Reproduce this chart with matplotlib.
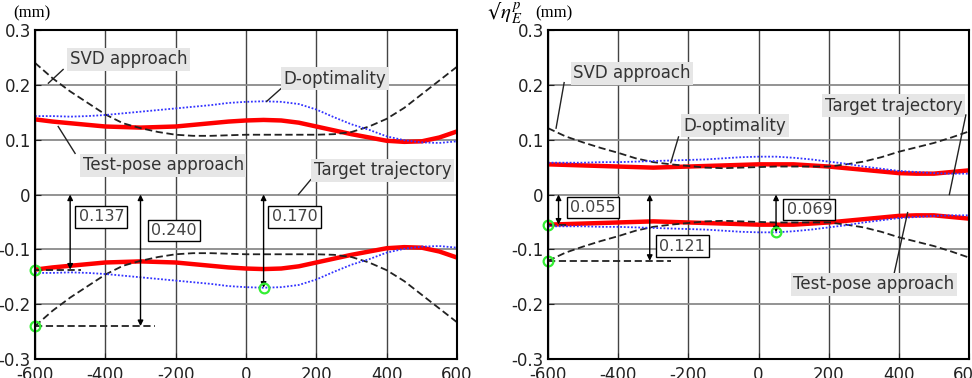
import numpy as np
import matplotlib
matplotlib.use("Agg")
import matplotlib.pyplot as plt

plt.rcParams['font.family'] = ['DejaVu Sans']
plt.rcParams['mathtext.fontset'] = 'stix'
plt.rcParams['axes.unicode_minus'] = False

# positions along the trajectory (mm)
pos = np.arange(-600, 601, 50)

# left panel: upper envelope values (the lower half is the mirror)
left_test = [0.137, 0.133, 0.130, 0.127, 0.124, 0.123, 0.122, 0.123, 0.124, 0.127,
             0.130, 0.133, 0.135, 0.136, 0.135, 0.131, 0.124, 0.117, 0.110, 0.104,
             0.098, 0.096, 0.097, 0.104, 0.115]
left_dopt = [0.143, 0.143, 0.142, 0.143, 0.145, 0.148, 0.151, 0.154, 0.157, 0.160,
             0.163, 0.167, 0.169, 0.170, 0.169, 0.165, 0.155, 0.141, 0.128, 0.118,
             0.106, 0.099, 0.095, 0.094, 0.097]
left_svd = [0.240, 0.212, 0.188, 0.167, 0.146, 0.130, 0.121, 0.114, 0.109, 0.107,
            0.107, 0.108, 0.109, 0.109, 0.109, 0.109, 0.109, 0.110, 0.114, 0.124,
            0.138, 0.158, 0.183, 0.208, 0.233]

# right panel
right_test = [0.055, 0.054, 0.053, 0.052, 0.051, 0.050, 0.049, 0.050, 0.051, 0.052,
              0.053, 0.054, 0.055, 0.055, 0.055, 0.053, 0.051, 0.048, 0.045, 0.042,
              0.039, 0.038, 0.038, 0.041, 0.044]
right_dopt = [0.058, 0.058, 0.058, 0.059, 0.059, 0.060, 0.061, 0.062, 0.063, 0.064,
              0.066, 0.068, 0.069, 0.069, 0.067, 0.064, 0.060, 0.056, 0.051, 0.047,
              0.043, 0.041, 0.039, 0.038, 0.038]
right_svd = [0.121, 0.106, 0.095, 0.085, 0.076, 0.066, 0.059, 0.055, 0.052, 0.049,
             0.048, 0.049, 0.050, 0.051, 0.051, 0.051, 0.051, 0.055, 0.060, 0.068,
             0.078, 0.086, 0.094, 0.104, 0.115]

# marked maxima: (position, value, arrow x, dashed line end, label text, label position)
left_marks = [(-600, 0.137, -500, -470, "0.137", (-411, -0.041)),
              (-600, 0.240, -300, -260, "0.240", (-205, -0.066)),
              (50, 0.170, 50, 50, "0.170", (138, -0.041))]
right_marks = [(-600, 0.055, -570, -540, "0.055", (-473, -0.024)),
               (-600, 0.121, -310, -250, "0.121", (-217, -0.094)),
               (50, 0.069, 50, 50, "0.069", (145, -0.027))]

# callout labels: text, box centre, leader start, leader end
left_labels = [("SVD approach", (-334, 0.247), (-562, 0.203), (-520, 0.228)),
               ("D-optimality", (253, 0.211), (59, 0.170), (101, 0.194)),
               ("Test-pose approach", (-235, 0.053), (-534, 0.124), (-486, 0.075)),
               ("Target trajectory", (388, 0.044), (149, 0.0), (184, 0.027))]
right_labels = [("SVD approach", (-361, 0.221), (-577, 0.121), (-554, 0.204)),
                ("D-optimality", (-68, 0.1255), (-250, 0.058), (-228, 0.105)),
                ("Target trajectory", (385, 0.162), (544, 0.0), (591, 0.145)),
                ("Test-pose approach", (329, -0.164), (425, -0.033), (387, -0.143))]

fig = plt.figure(figsize=(9.72, 3.78), dpi=100)
ax_l = fig.add_axes([35 / 972, 19 / 378, 422 / 972, 329 / 378])
ax_r = fig.add_axes([548 / 972, 19 / 378, 421 / 972, 329 / 378])


def draw_panel(ax, test, dopt, svd, marks, labels, ylab_dx):
    test = np.array(test)
    dopt = np.array(dopt)
    svd = np.array(svd)
    for s in (1, -1):
        ax.plot(pos, s * test, color='#ff0000', lw=3.2, zorder=3, solid_capstyle='butt')
        ax.plot(pos, s * svd, color='#222222', lw=1.3, ls=(0, (4, 2)), zorder=4)
        ax.plot(pos, s * dopt, color='#3333ff', lw=1.3, ls=(0, (1, 1)), zorder=5)

    for x0, v, xa, xend, txt, tpos in marks:
        ax.plot([x0, xend], [-v, -v], color='#222222', lw=1.3, ls=(0, (4, 2)), zorder=4)
        ax.annotate('', xy=(xa, -v), xytext=(xa, 0),
                    arrowprops=dict(arrowstyle='<|-|>', color='black', lw=1.0,
                                    mutation_scale=8, shrinkA=0, shrinkB=0),
                    zorder=6)
        ax.plot([x0], [-v], 'o', ms=7, mfc='none', mec='#33ee33', mew=1.6, zorder=7,
                clip_on=False)
        ax.text(tpos[0], tpos[1], txt, fontsize=11.5, color='#444444', ha='center',
                va='center', zorder=8,
                bbox=dict(boxstyle='square,pad=0.2', fc='white', ec='black', lw=1.0))

    for txt, c, p0, p1 in labels:
        ax.plot([p0[0], p1[0]], [p0[1], p1[1]], color='#222222', lw=1.0, zorder=6)
        ax.text(c[0], c[1], txt, fontsize=12, color='#333333', ha='center', va='center',
                zorder=8,
                bbox=dict(boxstyle='square,pad=0.15', fc='#e6e6e6', ec='none'))

    ax.set_xlim(-600, 600)
    ax.set_ylim(-0.3, 0.3)
    ax.set_xticks(np.arange(-600, 601, 200))
    ax.set_yticks(np.arange(-0.3, 0.31, 0.1))
    ax.set_yticklabels(['-0.3', '-0.2', '-0.1', '0', '0.1', '0.2', '0.3'])
    ax.tick_params(direction='in', length=4, labelsize=12, pad=3, colors='#222222')
    ax.tick_params(axis='x', pad=5)
    ax.grid(axis='x', color='#444444', lw=1.0, zorder=1)
    ax.grid(axis='y', color='#8a8a8a', lw=1.3, zorder=1)
    ax.set_axisbelow(True)
    for sp in ax.spines.values():
        sp.set_linewidth(1.5)
        sp.set_color('black')
        sp.set_zorder(9)

    # y label above the axis: sqrt(eta_E^p) (mm), offsets in points
    ax.annotate('\u221a', xy=(0, 1), xycoords='axes fraction',
                xytext=(ylab_dx, 8), textcoords='offset points',
                fontsize=15, family=['DejaVu Serif'], ha='left', va='baseline',
                annotation_clip=False)
    ax.annotate(r'$\eta^{\,p}_{\,E}$', xy=(0, 1), xycoords='axes fraction',
                xytext=(ylab_dx + 9.5, 8), textcoords='offset points',
                fontsize=15, ha='left', va='baseline', annotation_clip=False)
    ax.annotate('(mm)', xy=(0, 1), xycoords='axes fraction',
                xytext=(ylab_dx + 35, 9), textcoords='offset points',
                fontsize=12, family=['Liberation Serif', 'DejaVu Serif'],
                ha='left', va='baseline', annotation_clip=False)


draw_panel(ax_l, left_test, left_dopt, left_svd, left_marks, left_labels, -51)
draw_panel(ax_r, right_test, right_dopt, right_svd, right_marks, right_labels, -44)

fig.savefig("out.png", dpi=100)
